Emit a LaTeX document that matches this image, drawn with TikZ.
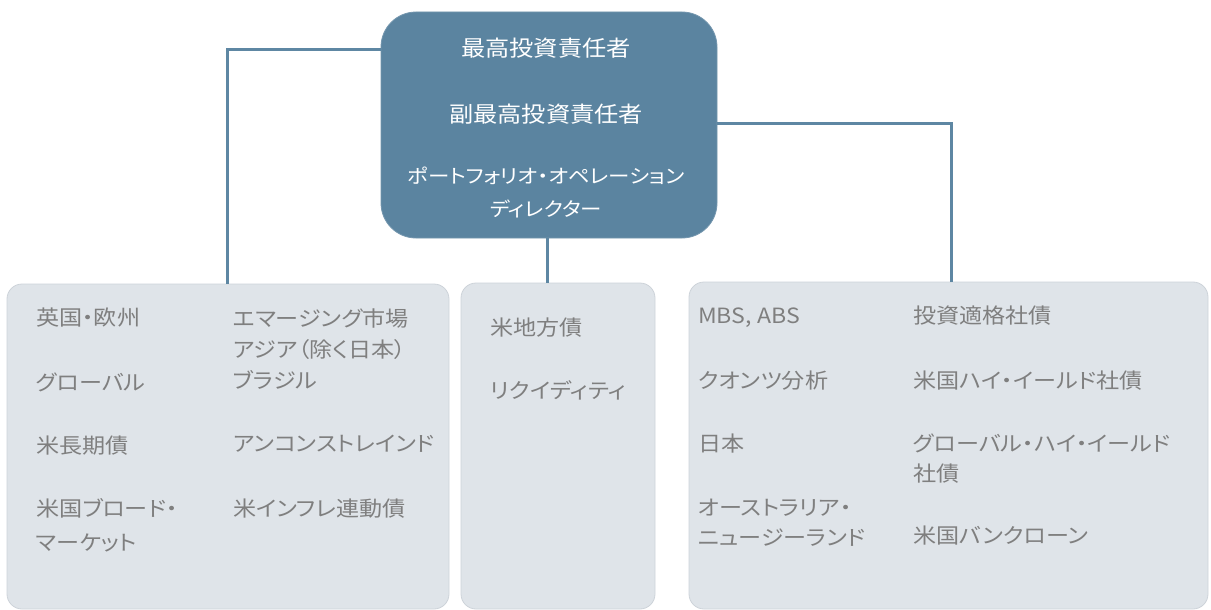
\documentclass[tikz,border=0pt]{standalone}
\usepackage{fontspec}
\newfontfamily\jp[RawFeature=+palt, FakeStretch=1.1]{Noto Sans CJK JP}
\definecolor{topfill}{HTML}{5B84A0}
\definecolor{connc}{HTML}{5E87A3}
\definecolor{boxfill}{HTML}{DFE4E9}
\definecolor{boxline}{HTML}{CDD3D9}
\definecolor{txtgray}{HTML}{7F7F7F}
\tikzset{
  topbox/.style={rectangle, rounded corners=35pt, fill=topfill, draw=topfill!85!white, line width=0.8pt, inner sep=0pt},
  lowbox/.style={rectangle, rounded corners=15pt, fill=boxfill, draw=boxline, line width=0.8pt, inner sep=0pt},
  conn/.style={draw=connc, line width=3pt},
  toptxt/.style={anchor=base, inner sep=0pt, text=white, align=center, font=\jp\fontsize{22}{33}\selectfont},
  itemtxt/.style={anchor=base west, inner sep=0pt, text=txtgray, align=left, font=\jp\fontsize{21}{31}\selectfont}
}
\begin{document}
\begin{tikzpicture}[x=1pt,y=-1pt]
\useasboundingbox (0,0) rectangle (1211,610);
% boxes
\node[topbox, minimum width=336pt, minimum height=226pt] (top) at (549,125) {};
\node[lowbox, minimum width=442pt, minimum height=325pt] (lbox) at (228,446.5) {};
\node[lowbox, minimum width=194pt, minimum height=326pt] (mbox) at (558,446) {};
\node[lowbox, minimum width=519pt, minimum height=327pt] (rbox) at (948.5,445.5) {};
% connectors
\coordinate (lturn) at (227,50);
\coordinate (rturn) at (951,123);
\coordinate (mtop) at (547,238);
\draw[conn] ([yshift=75pt]top.west) -- (lturn) -- (lturn |- lbox.north);
\draw[conn] ([yshift=2pt]top.east) -- (rturn) -- (rturn |- rbox.north);
\draw[conn] (mtop) -- (mtop |- mbox.north);
% top texts (multi-line nodes: position = baseline of last line)
\node[toptxt] (t1) at (546,57) {最高投資責任者};
\node[toptxt] (t2) at (546,122) {副最高投資責任者};
\node[toptxt, font=\jp\fontsize{19.5}{33}\selectfont] (t3) at (546,216) {ポートフォリオ・オペレーション\\ディレクター};
% left box
\node[itemtxt] (a1) at (36,325) {英国・欧州};
\node[itemtxt] (a2) at (36,390) {グローバル};
\node[itemtxt] (a3) at (36,453) {米長期債};
\node[itemtxt] (a4) at (36,550) {米国ブロード・\\[3pt]マーケット};
\node[itemtxt] (b1) at (233,388) {エマージング市場\\アジア（除く日本）\\ブラジル};
\node[itemtxt] (b2) at (233,451) {アンコンストレインド};
\node[itemtxt] (b3) at (233,516) {米インフレ連動債};
% middle box
\node[itemtxt] (c1) at (490,335) {米地方債};
\node[itemtxt] (c2) at (490,398) {リクイディティ};
% right box
\node[itemtxt] (d1) at (698,323) {MBS, ABS};
\node[itemtxt] (d2) at (698,388) {クオンツ分析};
\node[itemtxt] (d3) at (698,451) {日本};
\node[itemtxt] (d4) at (698,545) {オーストラリア・\\[-1pt]ニュージーランド};
\node[itemtxt] (e1) at (913,323) {投資適格社債};
\node[itemtxt] (e2) at (913,388) {米国ハイ・イールド社債};
\node[itemtxt] (e3) at (913,481) {グローバル・ハイ・イールド\\[-1pt]社債};
\node[itemtxt] (e4) at (913,543) {米国バンクローン};
\end{tikzpicture}
\end{document}
